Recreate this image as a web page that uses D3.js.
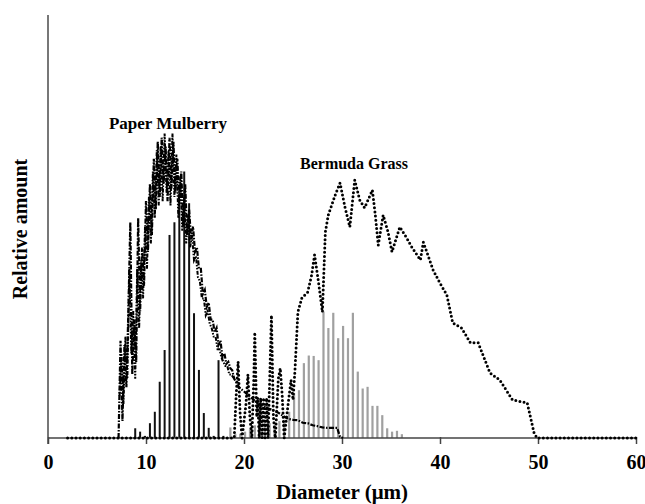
<!DOCTYPE html>
<html>
<head>
<meta charset="utf-8">
<style>
body { margin: 0; background: #fff; }
text { font-family: "Liberation Serif", "Times New Roman", serif; font-weight: bold; fill: #000; }
</style>
</head>
<body>

<svg id="chart" width="645" height="504"></svg>
<script src="https://d3js.org/d3.v7.min.js"></script>
<script>

// tick labels on the diameter axis
const xTicks = [0, 10, 20, 30, 40, 50, 60];

// Paper Mulberry curve, sample 1 (dash-dot), diameter in um / relative amount
const mulberryX = [7.2, 7.4, 7.6, 7.8, 8.0, 8.2, 8.4, 8.6, 8.8, 9.0, 9.2, 9.4, 9.6, 9.8,
    10.0, 10.2, 10.4, 10.6, 10.8, 11.0, 11.2, 11.4, 11.6, 11.8, 12.0, 12.2, 12.4, 12.6, 12.8,
    13.0, 13.2, 13.4, 13.6, 13.8, 14.0, 14.2, 14.4, 14.6, 14.8, 15.0, 15.2, 15.4, 15.6, 15.8,
    16.0, 16.2, 16.4, 16.6, 16.8, 17.0, 17.2, 17.4, 17.6, 17.8, 18.0, 18.2, 18.4, 18.6, 18.8,
    19.0, 19.5, 20.0, 20.5, 21.0, 21.5, 22.0, 22.5, 23.0, 23.5, 24.0, 24.5, 25.0, 25.5, 26.0,
    26.5, 27.0, 27.5, 28.0, 28.5, 29.0, 29.5, 29.8, 30.1];
const mulberryY = [0, 23, 4, 22, 12, 30, 51, 15, 28, 18, 52, 30, 45, 36,
    56, 44, 60, 48, 66, 54, 70, 57, 71, 60, 69, 56, 71, 59, 70,
    58, 66, 55, 63, 50, 60, 48, 54, 47, 50, 44, 45, 40, 40, 34,
    35, 31, 32, 28, 28, 25, 26, 22, 23, 19, 20, 17.5, 18, 16.5, 16,
    14, 12, 11, 10, 9, 8, 7.5, 7, 6.5, 6, 5.2, 4.5, 4.3, 4.2, 3.6,
    3.5, 3, 2.8, 2.5, 2.4, 2.4, 2.4, 0.3, 0];

// Paper Mulberry curve, sample 2 (dash-dot-dot)
const mulberry2X = [7.3, 7.5, 7.7, 7.9, 8.1, 8.3, 8.5, 8.7, 8.9, 9.1, 9.3, 9.5, 9.7, 9.9,
    10.1, 10.3, 10.5, 10.7, 10.9, 11.1, 11.3, 11.5, 11.7, 11.9, 12.1, 12.3, 12.5, 12.7, 12.9,
    13.1, 13.3, 13.5, 13.7, 13.9, 14.1, 14.3, 14.5, 14.7, 14.9, 15.1, 15.3, 15.5, 15.7, 15.9,
    16.1, 16.3, 16.5, 16.7, 16.9, 17.1, 17.3, 17.5, 17.7, 17.9, 18.1, 18.3, 18.5, 18.7, 19.0];
const mulberry2Y = [10, 20, 8, 24, 14, 40, 20, 30, 14, 40, 26, 42, 33, 50,
    40, 57, 46, 63, 52, 68, 55, 69, 56, 72, 58, 68, 55, 72, 57,
    67, 52, 62, 49, 57, 46, 52, 45, 48, 42, 43, 38, 37, 33, 33,
    29, 30, 27, 26, 24, 24, 21, 21, 19, 18, 17, 17, 15, 15, 14];

// Paper Mulberry histogram (black bars)
const mulberryBarX = [8.9, 9.4, 9.9, 10.4, 10.9, 11.4, 11.9, 12.4, 12.9, 13.4, 13.9, 14.4,
    14.9, 15.4, 15.9, 16.4, 16.9, 17.4, 17.9];
const mulberryBarY = [2.3, 1.5, 0.5, 3.5, 6.2, 13.3, 20.8, 48, 51, 55, 63, 55.5,
    29.5, 16.1, 5.9, 2.4, 0.5, 18.4, 0.5];

// Bermuda Grass curve (dotted)
const bermudaX = [2, 19.0, 19.2, 19.4, 19.6, 19.8, 20.2, 20.4, 20.6, 20.8, 21.0, 21.1, 21.3,
    21.4, 21.55, 21.7, 21.85, 22.0, 22.15, 22.3, 22.45, 22.6, 22.8, 23.0, 23.2, 23.5, 23.7,
    23.9, 24.1, 24.5, 24.8, 25.0, 25.2, 25.5, 25.9, 26.5, 26.9, 27.2, 27.6, 28.0, 28.3, 28.6,
    29.3, 29.8, 30.3, 30.8, 31.3, 31.8, 32.3, 33.1, 33.4, 33.7, 34.2, 34.7, 35.1, 35.9, 36.6,
    37.1, 38.0, 38.3, 39.3, 40.0, 40.7, 41.3, 42.2, 43.1, 43.9, 45.1, 46.1, 47.4, 48.9, 49.6,
    49.9, 60];
const bermudaY = [0, 0, 10, 18, 6, 0, 8, 15, 5, 0, 14, 25, 5,
    9.5, 0, 9.5, 0, 9.5, 0, 9.5, 0, 12, 29, 5, 0, 14, 16.5,
    10, 0, 8, 13.7, 9, 16, 29.8, 33.1, 34.5, 38.5, 43.3, 36.9, 29.8, 48.7, 52.7,
    57.4, 60.3, 54.6, 49.9, 61.0, 56.3, 54.4, 58.6, 52.7, 45.6, 52.7, 48.7, 44.0, 49.9, 47.3,
    45.2, 42.1, 46.3, 39.7, 36.6, 33.8, 27.2, 26.0, 22.5, 22.5, 15.4, 13.7, 9.0, 8.3, 1.2,
    0, 0];

// Bermuda Grass histogram (grey bars)
const bermudaBarX = [18.6, 19.1, 19.6, 20.1, 20.6, 21.1, 21.6, 22.1, 22.6, 23.1, 23.6, 24.1,
    24.6, 25.1, 25.6, 26.1, 26.6, 27.1, 27.6, 28.1, 28.6, 29.1, 29.6, 30.1, 30.6, 31.1,
    31.6, 32.1, 32.6, 33.1, 33.6, 34.1, 34.6, 35.1, 35.6, 36.1];
const bermudaBarY = [2.5, 1, 1, 1.5, 2, 3, 4, 4, 3.5, 3, 4, 4.3,
    6.2, 10.6, 11.3, 17.7, 19.5, 19.4, 18.4, 29.9, 26.0, 29.6, 23.6, 26.5, 23.6, 29.6,
    15.7, 11.7, 12.1, 7.6, 7.6, 5.4, 2.3, 1.5, 1.7, 0.9];

let svg = d3.select("#chart");

let xScale = d3.scaleLinear().domain([0, 60]).range([48, 636]);
let yScale = d3.scaleLinear().domain([0, 100]).range([438, 15]);

const zip = (xs, ys) => xs.map((x, i) => ({x: x, y: ys[i]}));

// bars first so the curves sit on top
svg.append("g").selectAll("rect")
    .data(zip(bermudaBarX, bermudaBarY))
    .join("rect")
    .attr("x", d => xScale(d.x) - 1)
    .attr("y", d => yScale(d.y))
    .attr("width", 2.2)
    .attr("height", d => yScale(0) - yScale(d.y))
    .attr("fill", "#a0a0a0");

svg.append("g").selectAll("rect")
    .data(zip(mulberryBarX, mulberryBarY))
    .join("rect")
    .attr("x", d => xScale(d.x) - 1)
    .attr("y", d => yScale(d.y))
    .attr("width", 2)
    .attr("height", d => yScale(0) - yScale(d.y))
    .attr("fill", "#111");

// axes
svg.append("line")
    .attr("x1", xScale(0)).attr("x2", xScale(0))
    .attr("y1", yScale(100)).attr("y2", yScale(0) + 6)
    .attr("stroke", "#777").attr("stroke-width", 2);

let xAxis = svg.append("g")
    .attr("transform", "translate(0," + yScale(0) + ")")
    .call(d3.axisBottom(xScale).tickValues(xTicks).tickSize(6).tickPadding(11));
xAxis.select(".domain").attr("stroke", "#444").attr("stroke-width", 1.5).attr("d", "M48,0H636");
xAxis.selectAll(".tick line").attr("stroke", "#444").attr("stroke-width", 1.5).attr("y1", -1);
xAxis.selectAll(".tick text")
    .attr("font-family", "Liberation Serif")
    .attr("font-weight", "bold")
    .attr("font-size", 20)
    .attr("fill", "#000");

let line = d3.line().x(d => xScale(d.x)).y(d => yScale(d.y));

// Paper Mulberry lines
svg.append("path")
    .datum(zip(mulberryX, mulberryY))
    .attr("d", line)
    .attr("fill", "none")
    .attr("stroke", "#000")
    .attr("stroke-width", 2.2)
    .attr("stroke-dasharray", "5,1.5,1.5,1.5");

svg.append("path")
    .datum(zip(mulberry2X, mulberry2Y))
    .attr("d", line)
    .attr("fill", "none")
    .attr("stroke", "#000")
    .attr("stroke-width", 2)
    .attr("stroke-dasharray", "4,1.5,1.5,1.5,1.5,1.5");

// Bermuda Grass line
svg.append("path")
    .datum(zip(bermudaX, bermudaY))
    .attr("d", line)
    .attr("fill", "none")
    .attr("stroke", "#000")
    .attr("stroke-width", 3)
    .attr("stroke-linecap", "round")
    .attr("stroke-dasharray", "0,4.2");

// labels
svg.append("text")
    .attr("x", 168).attr("y", 129)
    .attr("text-anchor", "middle")
    .attr("font-size", 17)
    .text("Paper Mulberry");

svg.append("text")
    .attr("x", 354).attr("y", 169)
    .attr("text-anchor", "middle")
    .attr("font-size", 16)
    .text("Bermuda Grass");

svg.append("text")
    .attr("x", 342).attr("y", 499)
    .attr("text-anchor", "middle")
    .attr("font-size", 21)
    .text("Diameter (\u03bcm)");

svg.append("text")
    .attr("transform", "translate(27,229) rotate(-90)")
    .attr("text-anchor", "middle")
    .attr("font-size", 20)
    .text("Relative amount");

</script>
</body>
</html>
